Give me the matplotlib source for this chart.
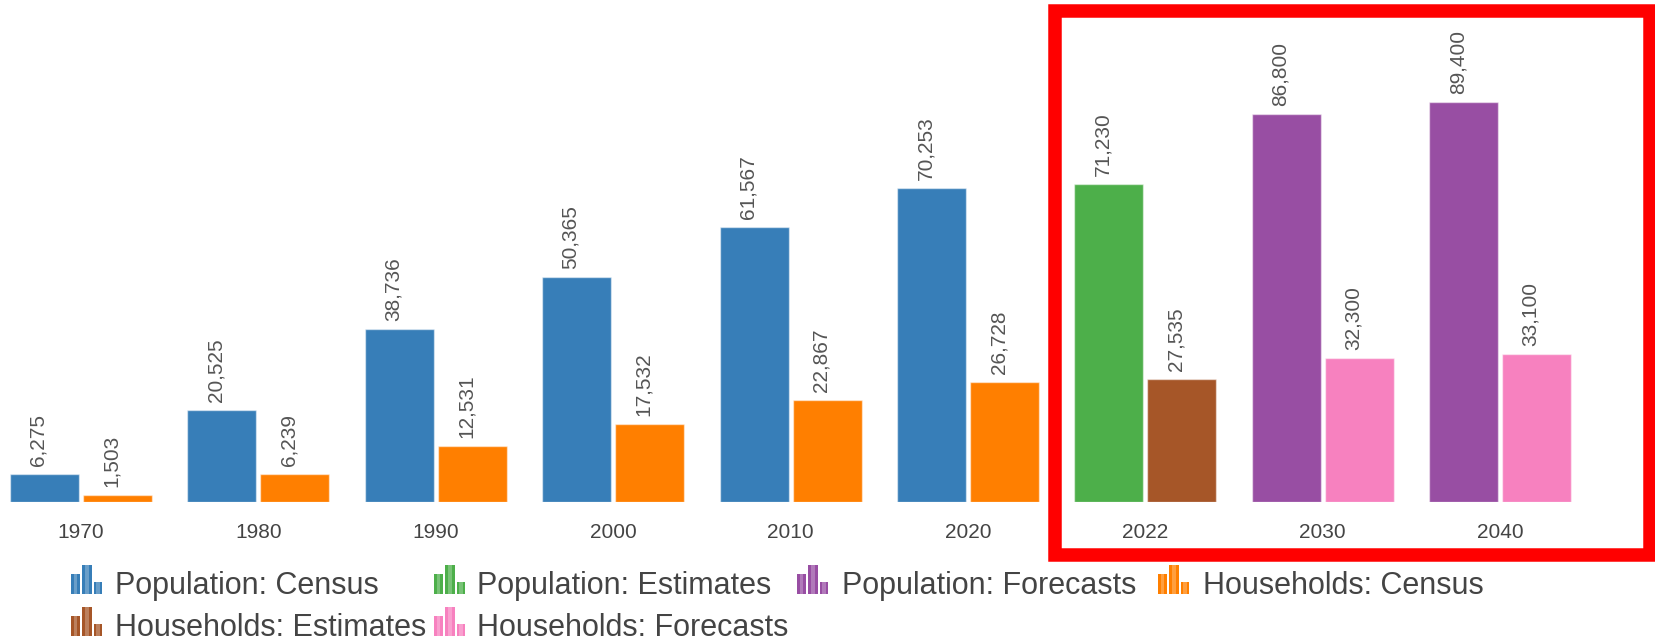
import numpy as np
import matplotlib.pyplot as plt
from matplotlib.patches import Rectangle

# data
years = ['1970', '1980', '1990', '2000', '2010', '2020', '2022', '2030', '2040']
population = [6275, 20525, 38736, 50365, 61567, 70253, 71230, 86800, 89400]
households = [1503, 6239, 12531, 17532, 22867, 26728, 27535, 32300, 33100]
kind = ['Census'] * 6 + ['Estimates'] + ['Forecasts'] * 2

pop_colors = {'Census': '#377eb8', 'Estimates': '#4daf4a', 'Forecasts': '#984ea3'}
hh_colors = {'Census': '#ff7f00', 'Estimates': '#a65628', 'Forecasts': '#f781bf'}

legend_labels = ['Population: Census', 'Population: Estimates', 'Population: Forecasts',
                 'Households: Census', 'Households: Estimates', 'Households: Forecasts']
legend_colors = ['#377eb8', '#4daf4a', '#984ea3', '#ff7f00', '#a65628', '#f781bf']

plt.rcParams['font.family'] = ['Liberation Sans', 'DejaVu Sans']

W, H = 1656, 641
fig = plt.figure(figsize=(W / 100, H / 100), dpi=100)

# plot area: baseline at pixel row 502
base = 502
ax = fig.add_axes([0, (H - base) / H, 1, base / H])

x = np.arange(len(years))
bw = 0.389
off = 0.206
pc = [pop_colors[k] for k in kind]
hc = [hh_colors[k] for k in kind]
b1 = ax.bar(x - off, population, bw, color=pc, edgecolor=(1, 1, 1, 0.5), linewidth=1)
b2 = ax.bar(x + off, households, bw, color=hc, edgecolor=(1, 1, 1, 0.5), linewidth=1)

for bars in (b1, b2):
    for r in bars:
        v = r.get_height()
        ax.annotate(f'{v:,.0f}', (r.get_x() + r.get_width() / 2, v),
                    xytext=(-6, 8), textcoords='offset pixels',
                    rotation=90, ha='center', va='bottom',
                    fontsize=15, color='#555555')

ax.set_xlim(-81 / 177.4, (W - 81) / 177.4)
ax.set_ylim(0, base / 0.004471)
ax.set_xticks(x)
ax.set_xticklabels(years, fontsize=15, color='#444444')
ax.tick_params(axis='x', length=0, pad=15)
ax.set_yticks([])
for s in ax.spines.values():
    s.set_visible(False)


def px(xp, yp):
    return xp / W, 1 - yp / H


# red highlight box
x0, y0 = px(1055, 555)
x1, y1 = px(1649.5, 10.5)
fig.add_artist(Rectangle((x0, y0), x1 - x0, y1 - y0, transform=fig.transFigure,
                         fill=False, edgecolor='#ff0000', linewidth=13.5 * 72 / 100))

# legend with little bar-chart icons
icon_x = [71, 434, 797, 1158, 71, 434]
text_x = [115, 477, 842, 1203, 115, 477]
rows = [594, 594, 594, 594, 636, 636]
parts = [(0, 9, 0.68), (11, 10, 1.0), (23, 8, 0.42)]
for lab, col, ix, tx, yb in zip(legend_labels, legend_colors, icon_x, text_x, rows):
    for dx, w, h in parts:
        hx, hy = px(ix + dx, yb)
        fig.add_artist(Rectangle((hx, hy), w / W, 29 * h / H, transform=fig.transFigure,
                                 facecolor=col, edgecolor='none'))
        sx, sy = px(ix + dx + w * 0.3, yb)
        fig.add_artist(Rectangle((sx, sy), w * 0.4 / W, 29 * h / H, transform=fig.transFigure,
                                 facecolor='white', alpha=0.25, edgecolor='none'))
    tx_, ty_ = px(tx, yb)
    fig.text(tx_, ty_, lab, fontsize=22, color='#444444', ha='left', va='baseline')

fig.savefig('out.png', dpi=100)
